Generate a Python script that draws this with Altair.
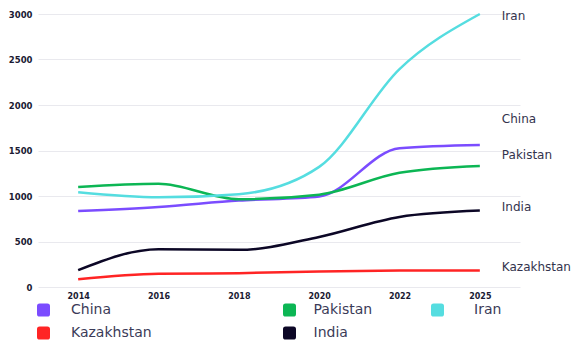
import altair as alt
import pandas as pd

years = ["2014", "2016", "2018", "2020", "2022", "2025"]
countries = ["China", "Pakistan", "Iran", "Kazakhstan", "India"]
china = [835, 880, 950, 995, 1525, 1560]
pakistan = [1100, 1135, 965, 1015, 1255, 1330]
iran = [1040, 985, 1020, 1320, 2395, 3000]
kazakhstan = [85, 145, 152, 170, 180, 182]
india = [185, 415, 408, 550, 770, 840]
colors = ["#7b4cff", "#0cb654", "#55dde0", "#ff2424", "#0c0726"]

label_names = ["Iran", "China", "Pakistan", "India", "Kazakhstan"]
label_y = [2975, 1845, 1450, 880, 220]

# legend columns as laid out in the reference
legend_col1 = ["China", "Kazakhstan"]
legend_col2 = ["Pakistan", "India"]
legend_col3 = ["Iran"]

series = {"China": china, "Pakistan": pakistan, "Iran": iran,
          "Kazakhstan": kazakhstan, "India": india}
rows = []
for c in countries:
    for y, v in zip(years, series[c]):
        rows.append({"country": c, "year": y, "value": v})
df = pd.DataFrame(rows)
labels_df = pd.DataFrame({"name": label_names, "value": label_y,
                          "year": [years[-1]] * len(label_names)})

FONT = "DejaVu Sans"
AXIS_COLOR = "#1a1a33"

x_enc = alt.X("year:O", sort=years, scale=alt.Scale(type="point", padding=0.5),
              axis=alt.Axis(title=None, labelAngle=0, ticks=False, domain=False, grid=False,
                            labelFont=FONT, labelFontSize=8, labelFontWeight="bold",
                            labelColor=AXIS_COLOR, labelPadding=5))
y_enc = alt.Y("value:Q", scale=alt.Scale(domain=[0, 3000], nice=False),
              axis=alt.Axis(title=None, values=[0, 500, 1000, 1500, 2000, 2500, 3000],
                            format="d", ticks=False, domain=False, grid=True,
                            gridColor="#e9e9ee", gridWidth=1, labelFont=FONT,
                            labelFontSize=8.5, labelFontWeight="bold",
                            labelColor=AXIS_COLOR, labelPadding=6))


def rotated(seq, k):
    return seq[k:] + seq[:k]


rounded_square = "M-0.6,-1H0.6Q1,-1,1,-0.6V0.6Q1,1,0.6,1H-0.6Q-1,1,-1,0.6V-0.6Q-1,-1,-0.6,-1Z"


def legend(values, x, offset):
    return alt.Legend(
        values=values, orient="none", legendX=x, legendY=289, direction="vertical",
        title=None, symbolType=rounded_square, symbolSize=169, symbolStrokeWidth=0,
        symbolOpacity=1, labelFont=FONT, labelFontSize=14, labelColor="#3b3b58",
        labelOffset=offset, rowPadding=9, padding=0, labelBaseline="middle",
    )


# same colour mapping in every scale; the domain order differs only so that
# Vega-Lite keeps the three legend columns apart instead of merging them
lines = alt.Chart(df).mark_line(interpolate="monotone", strokeWidth=2.5).encode(
    x=x_enc, y=y_enc,
    stroke=alt.Stroke("country:N",
                      scale=alt.Scale(domain=countries[::-1], range=colors[::-1]),
                      legend=None),
    detail="country:N",
)

leg1 = alt.Chart(df).mark_point(filled=True, opacity=0, size=1).encode(
    x=x_enc, y=y_enc,
    fill=alt.Fill("country:N", scale=alt.Scale(domain=countries, range=colors),
                  legend=legend(legend_col1, -1.5, 20.5)),
)

leg2 = alt.Chart(df).mark_point(filled=True, opacity=0, size=1).encode(
    x=x_enc, y=y_enc,
    color=alt.Color("country:N",
                    scale=alt.Scale(domain=rotated(countries, 1), range=rotated(colors, 1)),
                    legend=legend(legend_col2, 244.5, 17)),
)

leg3 = alt.Chart(df).mark_point(filled=True, opacity=0, size=1,
                                color=colors[countries.index("Iran")]).encode(
    x=x_enc, y=y_enc,
    shape=alt.Shape("country:N",
                    scale=alt.Scale(domain=rotated(countries, 2),
                                    range=[rounded_square] * len(countries)),
                    legend=legend(legend_col3, 392.5, 29.5)),
)

text = alt.Chart(labels_df).mark_text(
    align="left", baseline="middle", dx=22, font=FONT, fontSize=12, color="#33334d"
).encode(x=alt.X("year:O", sort=years), y=alt.Y("value:Q"), text="name:N")

chart = alt.layer(lines, leg1, leg2, leg3, text).properties(
    width=482, height=273,
    autosize=alt.AutoSizeParams(type="none"),
    padding={"left": 30, "top": 6, "right": 51, "bottom": 60},
).configure_view(stroke=None)

chart.save("out.html", embed_options={"renderer": "svg", "actions": False})
